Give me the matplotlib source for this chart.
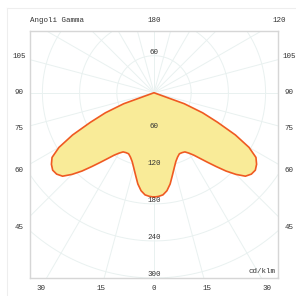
import numpy as np
import matplotlib
matplotlib.use("Agg")
import matplotlib.pyplot as plt
from matplotlib.lines import Line2D

# Intensitaet (cd/klm) ueber Gamma-Winkel, symmetrisch C0/C180
gamma = [0, 2.5, 5, 7.5, 10, 12.5, 15, 17.5, 20, 22.5, 25, 27.5, 30, 32.5, 35,
         37.5, 40, 42.5, 45, 47.5, 50, 52.5, 55, 57.5, 60, 62.5, 65, 67.5, 70,
         72.5, 75, 90, 120, 150, 180]
intensity = [169, 168, 166, 160, 150, 137, 126, 117, 111, 107, 107, 108, 113,
             120, 130, 142, 156, 172, 187, 200, 205, 206, 202, 195, 177, 148,
             113, 85, 52, 0, 0, 0, 0, 0, 0]

radial_ticks = [60, 120, 180, 240, 300]
side_ticks = [105, 90, 75, 60, 45]
bottom_ticks = [30, 15, 0, 15, 30]

W, H = 296, 296
fig = plt.figure(figsize=(W / 100, H / 100), dpi=100)
# Achse in Pixeln: x 30..278, y 31..278
ax = fig.add_axes([30 / W, 1 - 278 / H, 248 / W, 247 / H])
ax.set_xlim(-200, 200)
ax.set_ylim(-300, 100)
ax.set_aspect("auto")
ax.set_xticks([])
ax.set_yticks([])
for s in ax.spines.values():
    s.set_color("#d6d6d6")
    s.set_linewidth(1.0)

grid_col = "#e9f1f0"
t = np.linspace(0, 2 * np.pi, 400)
for r in [60, 120, 180, 240, 300, 360]:
    ax.plot(r * np.cos(t), r * np.sin(t), color=grid_col, lw=0.7, zorder=1)
for a in np.arange(0, 360, 15):
    ar = np.deg2rad(a)
    ax.plot([0, 500 * np.cos(ar)], [0, 500 * np.sin(ar)], color=grid_col, lw=0.7, zorder=1)

# Kurve: rechte Haelfte + gespiegelte linke Haelfte
g = np.deg2rad(np.array(gamma))
I = np.array(intensity)
xr = I * np.sin(g)
yr = -I * np.cos(g)
x = np.concatenate([xr, -xr[::-1]])
y = np.concatenate([yr, yr[::-1]])
ax.fill(x, y, facecolor="#f9eb98", edgecolor="none", zorder=2)
ax.plot(x, y, color="#ef5a22", lw=1.2, zorder=3, solid_joinstyle="round")

font = dict(family=["Liberation Mono", "DejaVu Sans Mono"], fontsize=5.4, color="#333333")

# radiale Beschriftung
ax.text(0, 65, "60", ha="center", va="center", zorder=4, **font)
for r in radial_ticks:
    ax.text(0, -(r - 5), str(r), ha="center", va="center", zorder=4, **font)

# Seitenbeschriftung
xs = 218
for gm in side_ticks:
    gr = np.deg2rad(gm)
    yy = -xs * np.cos(gr) / np.sin(gr)
    ax.text(xs, yy, str(gm), ha="center", va="center", clip_on=False, **font)
    ax.text(-xs, yy, str(gm), ha="center", va="center", clip_on=False, **font)

# untere Beschriftung
yb = -316.4
for gm, sgn in zip(bottom_ticks, [-1, -1, 1, 1, 1]):
    xx = sgn * abs(yb) * np.tan(np.deg2rad(gm))
    ax.text(xx, yb, str(gm), ha="center", va="center", clip_on=False, **font)

# obere Beschriftung
yt = 116.7
ax.text(0, yt, "180", ha="center", va="center", clip_on=False, **font)
ax.text(yt * np.tan(np.deg2rad(60)), yt, "120", ha="center", va="center", clip_on=False, **font)
ax.text(-200, yt, "Angoli Gamma", ha="left", va="center", clip_on=False, **font)
ax.text(196, -290, "cd/klm", ha="right", va="center", zorder=4, **font)

# schwacher Rahmen oben/links
fig.lines.append(Line2D([7 / W, 7 / W], [0, 1 - 8 / H], transform=fig.transFigure,
                        color="#eeeeee", lw=0.8))
fig.lines.append(Line2D([7 / W, 1], [1 - 8 / H, 1 - 8 / H], transform=fig.transFigure,
                        color="#eeeeee", lw=0.8))

fig.savefig("out.png", dpi=100)
